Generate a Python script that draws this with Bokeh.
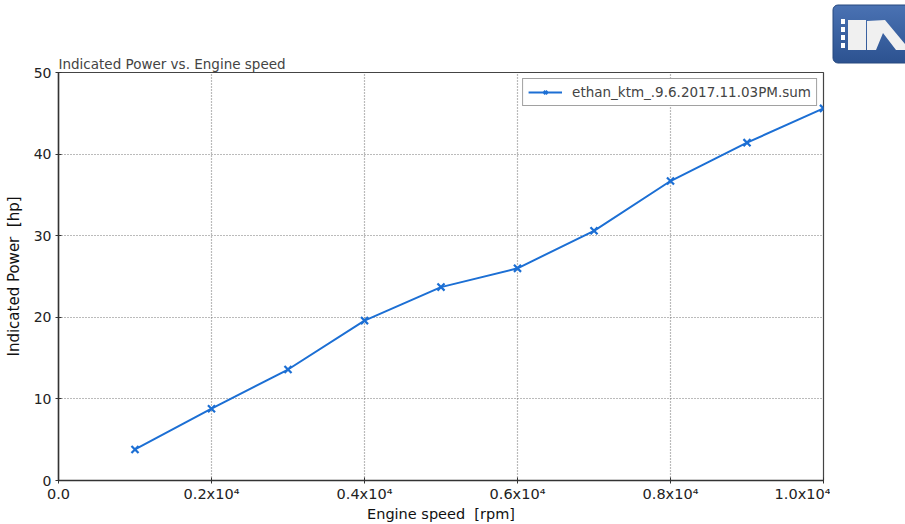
from bokeh.plotting import figure
from bokeh.models import Range1d, FixedTicker, Legend, LegendItem, Div
from bokeh.layouts import row
from bokeh.embed import file_html
from bokeh.resources import INLINE

# ---- data ----
speed_rpm = [1000, 2000, 3000, 4000, 5000, 6000, 7000, 8000, 9000, 10000]
power_hp = [3.8, 8.8, 13.6, 19.6, 23.7, 26.0, 30.6, 36.7, 41.4, 45.6]
series_name = "ethan_ktm_.9.6.2017.11.03PM.sum"
x_ticks = [0, 2000, 4000, 6000, 8000, 10000]
x_tick_labels = ["0.0", "0.2x10\u2074", "0.4x10\u2074", "0.6x10\u2074", "0.8x10\u2074", "1.0x10\u2074"]
y_ticks = [0, 10, 20, 30, 40, 50]

FONT = "DejaVu Sans"
BLUE = "#1c6fd4"

p = figure(width=830, height=524, x_range=Range1d(0, 10000), y_range=Range1d(0, 50),
           output_backend="svg", toolbar_location=None,
           min_border_left=58, min_border_right=7, min_border_top=72, min_border_bottom=43,
           title="Indicated Power vs. Engine speed")
p.title.text_font = FONT
p.title.text_font_size = "13.5px"
p.title.text_font_style = "normal"
p.title.align = "left"
p.title.offset = 0
p.title.standoff = 2

p.outline_line_color = "#444444"
p.outline_line_width = 1.2

for ax in (p.xaxis[0], p.yaxis[0]):
    ax.axis_line_color = "#333333"
    ax.axis_line_width = 1.5
    ax.major_tick_line_color = "#333333"
    ax.major_tick_in = 3
    ax.major_tick_out = 3
    ax.minor_tick_line_color = None
    ax.major_label_text_font = FONT
    ax.major_label_text_color = "#222222"
    ax.axis_label_text_font = FONT
    ax.axis_label_text_font_style = "normal"
    ax.axis_label_text_color = "#111111"

p.xaxis.ticker = FixedTicker(ticks=x_ticks)
p.xaxis.major_label_overrides = {t: l for t, l in zip(x_ticks, x_tick_labels)}
p.yaxis.ticker = FixedTicker(ticks=y_ticks)
p.xaxis.major_label_text_font_size = "14.5px"
p.yaxis.major_label_text_font_size = "14px"
p.xaxis.major_label_standoff = 2
p.yaxis.major_label_standoff = 4
p.xaxis.axis_label = "Engine speed \u00a0[rpm]"
p.yaxis.axis_label = "Indicated Power \u00a0[hp]"
p.xaxis.axis_label_text_font_size = "14.5px"
p.yaxis.axis_label_text_font_size = "15px"
p.xaxis.axis_label_standoff = 1
p.yaxis.axis_label_standoff = 8

p.grid.grid_line_color = "#777777"
p.grid.grid_line_dash = "1 2"
p.grid.grid_line_width = 1.2

ln = p.line(speed_rpm, power_hp, line_color=BLUE, line_width=2)
mk = p.scatter(speed_rpm, power_hp, marker="x", size=10, line_color=BLUE, line_width=2.2)

legend = Legend(items=[LegendItem(label=series_name, renderers=[ln, mk])],
                location="top_right")
legend.label_text_font = FONT
legend.label_text_font_size = "13.5px"
legend.border_line_color = "#444444"
legend.border_line_width = 1
legend.margin = 6
legend.padding = 5
legend.glyph_width = 34
legend.glyph_height = 12
legend.label_standoff = 10
legend.spacing = 0
legend.label_height = 12
p.add_layout(legend)

# ---- logo (decoration) ----
logo_svg = (
    '<svg width="75" height="70" xmlns="http://www.w3.org/2000/svg">'
    '<defs><linearGradient id="g" x1="0" y1="0" x2="0" y2="1">'
    '<stop offset="0" stop-color="#4a72b3"/><stop offset="1" stop-color="#2c5290"/>'
    '</linearGradient></defs>'
    '<rect x="3" y="5" width="80" height="58" rx="5" fill="url(#g)" stroke="#27497f"/>'
    '<rect x="11" y="19" width="4" height="5" fill="#fff"/>'
    '<rect x="11" y="27" width="4" height="5" fill="#fff"/>'
    '<rect x="11" y="35" width="4" height="5" fill="#fff"/>'
    '<rect x="11" y="43" width="4" height="5" fill="#fff"/>'
    '<rect x="18" y="20" width="18" height="30" fill="#f0f0f0"/>'
    '<polygon points="37,50 37,21 55,20 75,44 75,50 66,50 53,33 46,50" fill="#f0f0f0"/>'
    '</svg>'
)
logo = Div(text=logo_svg, width=75, height=70, margin=0)

layout = row(p, logo)
open("out.html", "w").write(file_html(layout, INLINE))
